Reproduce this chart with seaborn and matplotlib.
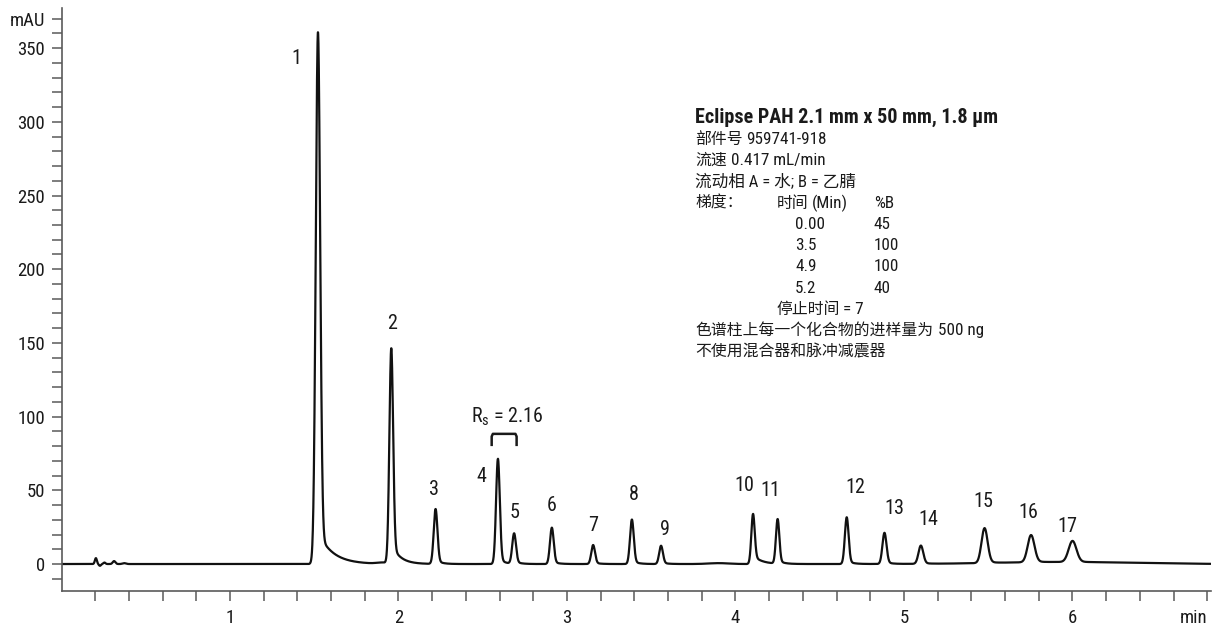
import numpy as np
import pandas as pd
import matplotlib
matplotlib.use("Agg")
import matplotlib.pyplot as plt
from matplotlib import font_manager as fm
import seaborn as sns

# ---------------- data ----------------
peak_ids = ["1", "2", "3", "4", "5", "6", "7", "8", "9", "10",
            "11", "12", "13", "14", "15", "16", "17"]
retention_min = [1.522, 1.957, 2.220, 2.590, 2.686, 2.910, 3.155, 3.385, 3.558,
                 4.104, 4.250, 4.660, 4.884, 5.100, 5.478, 5.754, 6.000]
height_mAU = [359.0, 145.0, 37.0, 71.0, 20.5, 24.5, 12.8, 30.0, 12.3,
              33.5, 30.0, 31.5, 21.0, 12.3, 23.5, 18.3, 14.2]
sigma_min = [0.013, 0.011, 0.011, 0.011, 0.011, 0.011, 0.011, 0.011, 0.011,
             0.010, 0.010, 0.011, 0.012, 0.014, 0.018, 0.020, 0.023]
tail_mAU = [22.0, 14.0, 3.0, 5.0, 2.0, 2.0, 1.2, 2.5, 1.2,
            6.0, 2.5, 2.5, 1.8, 1.0, 2.0, 1.5, 1.2]
tail_tau_min = [0.085, 0.050, 0.030, 0.030, 0.030, 0.030, 0.030, 0.030, 0.030,
                0.050, 0.030, 0.030, 0.030, 0.030, 0.030, 0.030, 0.030]

# small baseline features (injection blips, drift)
blip_min = [0.204, 0.228, 0.255, 0.312, 0.372, 1.90, 3.90, 5.95]
blip_mAU = [4.0, -1.2, 1.0, 2.0, 0.6, 0.8, 0.6, 1.4]
blip_sigma = [0.006, 0.006, 0.006, 0.008, 0.01, 0.03, 0.06, 0.40]

# gradient table
grad_time = ["0.00", "3.5", "4.9", "5.2"]
grad_B = ["45", "100", "100", "40"]

# peak label positions (annotation layout)
label_x = [1.396, 1.960, 2.210, 2.494, 2.686, 2.909, 3.155, 3.398, 3.579,
           4.053, 4.206, 4.713, 4.940, 5.146, 5.472, 5.738, 5.968]
label_y = [339.5, 159.4, 46.8, 55.9, 30.9, 36.1, 22.5, 43.4, 20.0,
           49.5, 46.1, 48.0, 33.6, 26.4, 38.9, 31.4, 21.8]

# ---------------- build the trace ----------------
t = np.linspace(0.0, 6.82, 9000)
signal = np.zeros_like(t)
for t0, h, s, a, tau in zip(retention_min, height_mAU, sigma_min, tail_mAU, tail_tau_min):
    signal += h * np.exp(-0.5 * ((t - t0) / s) ** 2)
    onset = 1.0 / (1.0 + np.exp(-(t - t0 - 1.2 * s) / (0.5 * s)))
    signal += a * onset * np.exp(-np.clip(t - t0, 0, None) / tau)
for c, h, s in zip(blip_min, blip_mAU, blip_sigma):
    signal += h * np.exp(-0.5 * ((t - c) / s) ** 2)
df = pd.DataFrame({"time": t, "mAU": signal})

# ---------------- fonts ----------------
def has_font(name):
    try:
        fm.findfont(fm.FontProperties(family=name), fallback_to_default=False)
        return True
    except Exception:
        return False

LATIN = "Liberation Sans"
for cand in ["Roboto Condensed", "Liberation Sans Narrow", "Archivo Narrow",
             "IBM Plex Sans Condensed", "Fira Sans Condensed"]:
    if has_font(cand):
        LATIN = cand
        break
CJK = "Noto Sans CJK SC"

sns.set_theme(style="ticks")
plt.rcParams["font.family"] = [LATIN, CJK, "DejaVu Sans"]
plt.rcParams["mathtext.fontset"] = "custom"
plt.rcParams["mathtext.rm"] = LATIN
plt.rcParams["mathtext.it"] = LATIN
plt.rcParams["axes.unicode_minus"] = False

W, H = 1213, 626
fig = plt.figure(figsize=(W / 100, H / 100), dpi=100)
ax = fig.add_axes([61.5 / W, 1 - 591 / H, (1211 - 61.5) / W, (591 - 8.3) / H])

TXT = "#1a1a1a"
AXC = "#5a5a5a"
sns.lineplot(data=df, x="time", y="mAU", ax=ax, color="#111111", linewidth=1.6)

ax.set_xlim(0, 6.822)
ax.set_ylim(-18.3, 377)

for side in ["top", "right"]:
    ax.spines[side].set_visible(False)
for side in ["left", "bottom"]:
    ax.spines[side].set_color(AXC)
    ax.spines[side].set_linewidth(1.2)

xt = np.round(np.arange(0.2, 6.81, 0.2), 1)
xlab = [str(int(round(v))) if abs(v - round(v)) < 1e-6 else "" for v in xt]
xlab[-1] = "min"
ax.set_xticks(xt)
xl = ax.set_xticklabels(xlab)
xl[-1].set_horizontalalignment("right")

yt = np.arange(-10, 371, 10)
ylab = [str(v) if v % 50 == 0 else "" for v in yt]
ylab[-1] = "mAU"
ax.set_yticks(yt)
ax.set_yticklabels(ylab)

ax.tick_params(axis="both", direction="out", length=7, width=1.1, color=AXC,
               labelsize=13.5, labelcolor=TXT)
ax.tick_params(axis="x", pad=6)
ax.tick_params(axis="y", pad=5)
ax.set_xlabel("")
ax.set_ylabel("")

# peak labels
for pid, lx, ly in zip(peak_ids, label_x, label_y):
    ax.text(lx, ly, pid, ha="center", va="baseline", fontsize=14.5, color=TXT)

# resolution annotation
ax.text(2.645, 95.7, r"R$_\mathrm{s}$ = 2.16", ha="center", va="baseline",
        fontsize=14.5, color=TXT)
ax.plot([2.553, 2.553, 2.56, 2.694, 2.701, 2.701], [80, 86.5, 88.3, 88.3, 86.5, 80],
        color=TXT, linewidth=1.8, solid_joinstyle="round", solid_capstyle="butt")

# method text block (pixel layout)
FS_LAT = 12.3
FS_CJK = 11.4
FS_MIX = 12.0


def ftext(px, py, s, fs, **kw):
    fig.text(px / W, 1 - py / H, s, va="center", ha="left", color=TXT,
             fontsize=fs, **kw)


ftext(695, 117.3, "Eclipse PAH 2.1 mm x 50 mm, 1.8 μm", 14.5, fontweight="bold")
ftext(695, 139.3, "部件号", FS_CJK)
ftext(746.0, 139.3, "959741-918", FS_LAT)
ftext(695, 160.7, "流速", FS_CJK)
ftext(731.0, 160.7, "0.417 mL/min", FS_LAT)
ftext(695, 181.7, "流动相 A = 水; B = 乙腈", FS_MIX)
ftext(695, 203.3, "梯度：", FS_CJK)
ftext(777.0, 203.3, "时间", FS_CJK)
ftext(811.5, 203.3, "(Min)", FS_LAT)
ftext(874.0, 203.3, "%B", FS_LAT)
for gt, gb, py in zip(grad_time, grad_B, [224.3, 245.7, 266.7, 288.3]):
    ftext(795, py, gt, FS_LAT)
    ftext(873.5, py, gb, FS_LAT)
ftext(777.0, 309.3, "停止时间", FS_CJK)
ftext(843.0, 309.3, "= 7", FS_LAT)
ftext(695, 330.0, "色谱柱上每一个化合物的进样量为", FS_CJK)
ftext(937.5, 330.0, "500 ng", FS_LAT)
ftext(695, 352.3, "不使用混合器和脉冲减震器", FS_CJK)

fig.savefig("out.png", dpi=100)
